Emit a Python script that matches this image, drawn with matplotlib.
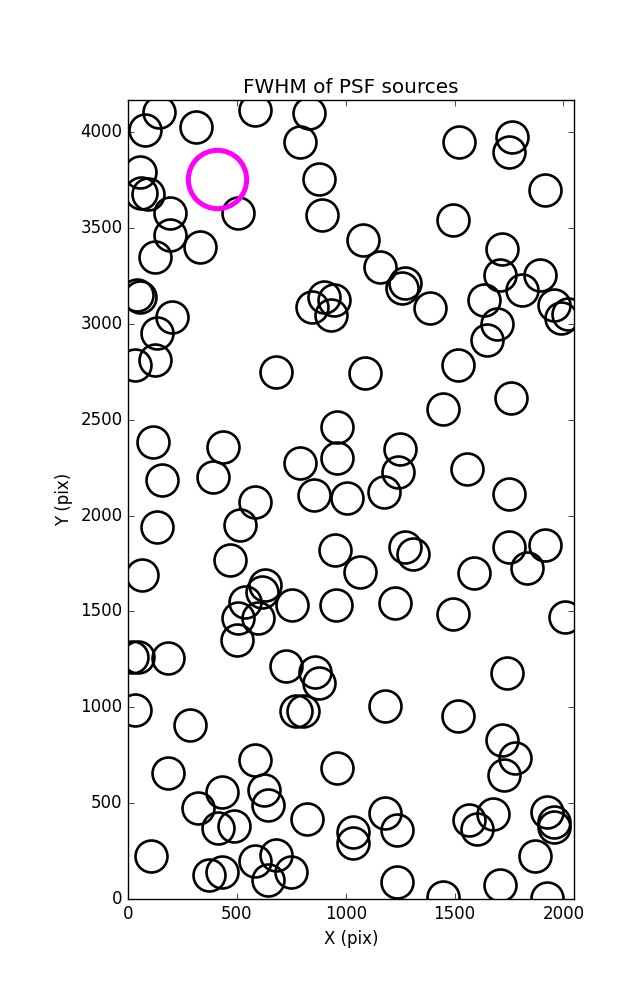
import matplotlib
matplotlib.use("Agg")
import matplotlib.pyplot as plt
import numpy as np

# source positions (pix)
x_pix = [144, 78, 312, 584, 829, 790, 55, 60, 93, 879, 890, 507, 193, 193, 124,
         331, 1081, 40, 55, 844, 898, 944, 931, 201, 132, 125, 30, 680,
         1518, 1763, 1748, 1916, 1495, 1158, 1270, 1258, 1388, 1717, 1710, 1893,
         1809, 1633, 1694, 1648, 1955, 1990, 2020, 1514, 1089,
         116, 435, 959, 959, 790, 155, 392, 584, 852, 1005, 132, 515, 951, 63,
         469, 630, 614, 538, 752, 956, 507, 599, 500,
         1445, 1760, 1250, 1242, 1178, 1556, 1748, 1273, 1311, 1066, 1587, 1748,
         1916, 1832, 1227, 1491, 2008,
         17, 47, 182, 725, 860, 879, 772, 803, 32, 285, 584, 182, 959, 430, 625,
         645, 320, 412, 489, 821, 106, 584, 679, 374, 433, 645, 748,
         1743, 1181, 1515, 1717, 1778, 1729, 1181, 1235, 1035, 1035, 1564, 1605,
         1676, 1924, 1955, 1955, 1870, 1235, 1449, 1710, 1924]
y_pix = [4106, 4010, 4028, 4115, 4098, 3950, 3793, 3683, 3680, 3758, 3567, 3576,
         3576, 3463, 3350, 3402, 3437, 3150, 3141, 3089, 3141, 3124, 3046, 3037,
         2950, 2810, 2785, 2750,
         3949, 3976, 3898, 3698, 3541, 3298, 3214, 3185, 3081, 3393, 3254, 3254,
         3176, 3124, 3002, 2915, 3098, 3030, 3050, 2785, 2745,
         2385, 2359, 2463, 2298, 2272, 2185, 2202, 2072, 2107, 2090, 1942, 1950,
         1820, 1690, 1768, 1638, 1603, 1550, 1533, 1533, 1464, 1464, 1350,
         2554, 2611, 2345, 2228, 2124, 2241, 2115, 1837, 1799, 1704, 1699, 1837,
         1846, 1729, 1545, 1486, 1472,
         1264, 1264, 1259, 1215, 1186, 1125, 980, 980, 986, 907, 725, 659, 681,
         560, 568, 490, 473, 369, 381, 417, 226, 198, 229, 125, 142, 99, 142,
         1180, 1006, 954, 829, 734, 647, 447, 360, 351, 290, 412, 365,
         442, 452, 403, 377, 226, 87, 8, 73, 5]

# reference star (highlighted)
ref_x = [408]
ref_y = [3755]

X_TICKS = [0, 500, 1000, 1500, 2000]
Y_TICKS = [0, 500, 1000, 1500, 2000, 2500, 3000, 3500, 4000]


def main():
    plt.style.use("classic")
    fig = plt.figure(figsize=(6.37, 10.0), dpi=100, facecolor="white")
    # axes box placed by hand to match the original layout
    ax = fig.add_axes([0.201, 0.101, 0.7006, 0.799])

    ax.plot(x_pix, y_pix, "o", markersize=23, markerfacecolor="none",
            markeredgecolor="black", markeredgewidth=1.9, linestyle="none")
    ax.plot(ref_x, ref_y, "o", markersize=42, markerfacecolor="none",
            markeredgecolor="magenta", markeredgewidth=3.6, linestyle="none")

    ax.set_xlim(0, 2050)
    ax.set_ylim(0, 4168)
    ax.set_xticks(X_TICKS)
    ax.set_yticks(Y_TICKS)
    ax.set_xlabel("X (pix)")
    ax.set_ylabel("Y (pix)")
    ax.set_title("FWHM of PSF sources")

    fig.savefig("out.png", dpi=100, facecolor="white")
    plt.close(fig)


if __name__ == "__main__":
    main()
